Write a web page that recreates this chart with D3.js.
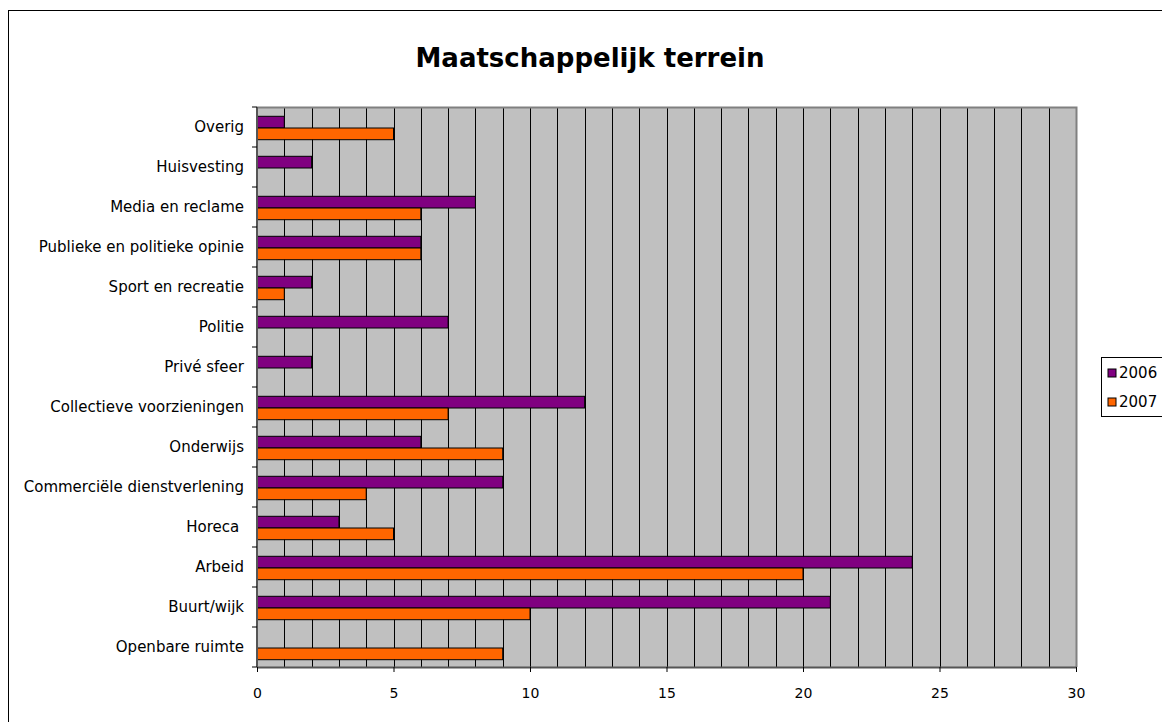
<!DOCTYPE html>
<html>
<head>
<meta charset="utf-8">
<script src="https://cdn.jsdelivr.net/npm/d3@7"></script>
<style>
  body { margin: 0; background: #fff; }
  svg text { font-family: "DejaVu Sans", Verdana, sans-serif; fill: #000; }
</style>
</head>
<body>
<svg id="chart" width="1162" height="722"></svg>
<script>
"use strict";

//Categories, top to bottom as in the chart
var categories = ["Overig", "Huisvesting", "Media en reclame", "Publieke en politieke opinie",
  "Sport en recreatie", "Politie", "Privé sfeer", "Collectieve voorzieningen", "Onderwijs",
  "Commerciële dienstverlening", "Horeca ", "Arbeid", "Buurt/wijk", "Openbare ruimte"];

//Series values
var years = ["2006", "2007"];
var values2006 = [1, 2, 8, 6, 2, 7, 2, 12, 6, 9, 3, 24, 21, 0];
var values2007 = [5, 0, 6, 6, 1, 0, 0, 7, 9, 4, 5, 20, 10, 9];
var colors = ["#800080", "#ff6600"];

//X tick labels
var xTicks = [0, 5, 10, 15, 20, 25, 30];

var svg = d3.select("#chart");

//Outer frame
svg.append("rect")
  .attr("x", 8.5).attr("y", 10.5)
  .attr("width", 1170).attr("height", 730)
  .attr("fill", "none").attr("stroke", "#000");

var margin = {top: 107, left: 257, right: 1076, bottom: 667};

var x = d3.scaleLinear().domain([0, 30]).range([margin.left, margin.right]);
var y = d3.scaleBand().domain(categories).range([margin.top, margin.bottom]);

//Plot area background
svg.append("rect")
  .attr("x", x(0)).attr("y", margin.top)
  .attr("width", x(30) - x(0)).attr("height", margin.bottom - margin.top)
  .attr("fill", "#c0c0c0");

//Vertical grid lines at every unit
svg.append("g")
  .selectAll("line")
  .data(d3.range(1, 30))
  .enter().append("line")
  .attr("x1", function(d) { return Math.round(x(d)) + 0.5; })
  .attr("x2", function(d) { return Math.round(x(d)) + 0.5; })
  .attr("y1", margin.top).attr("y2", margin.bottom)
  .attr("stroke", "#000").attr("stroke-width", 1);

//Plot border top/right in grey
svg.append("path")
  .attr("d", "M" + (x(0)) + "," + (margin.top + 0.5) + "H" + (Math.round(x(30)) + 0.5) + "V" + margin.bottom)
  .attr("fill", "none").attr("stroke", "#808080").attr("stroke-width", 2);

//Bars
var barH = 11.7;
var rows = categories.map(function(c, i) {
  return {cat: c, vals: [values2006[i], values2007[i]]};
});

var group = svg.append("g").selectAll("g")
  .data(rows)
  .enter().append("g")
  .attr("transform", function(d) { return "translate(0," + (y(d.cat) + y.bandwidth() / 2 + 1) + ")"; });

group.selectAll("rect")
  .data(function(d) { return d.vals.map(function(v, k) { return {v: v, k: k}; }); })
  .enter().filter(function(d) { return d.v > 0; }).append("rect")
  .attr("x", x(0))
  .attr("y", function(d) { return d.k === 0 ? -barH : 0; })
  .attr("width", function(d) { return x(d.v) - x(0); })
  .attr("height", barH)
  .attr("fill", function(d) { return colors[d.k]; })
  .attr("stroke", "#000").attr("stroke-width", 1);

//X axis
var xAxis = svg.append("g")
  .attr("transform", "translate(0," + margin.bottom + ")")
  .call(d3.axisBottom(x).tickValues(xTicks).tickSizeInner(5).tickSizeOuter(0).tickPadding(16));
xAxis.select(".domain").attr("stroke", "#555").attr("stroke-width", 2);
xAxis.selectAll(".tick line").attr("stroke", "#000");
xAxis.selectAll("text").attr("font-size", 14);

//Y axis with ticks on the band boundaries
var yAxis = svg.append("g").attr("transform", "translate(" + x(0) + ",0)");
yAxis.append("line")
  .attr("y1", margin.top).attr("y2", margin.bottom)
  .attr("stroke", "#555").attr("stroke-width", 2);
yAxis.selectAll(".ytick")
  .data(categories.concat(["end"]))
  .enter().append("line")
  .attr("class", "ytick")
  .attr("x1", -5).attr("x2", 0)
  .attr("y1", function(d, i) { return margin.top + i * y.bandwidth(); })
  .attr("y2", function(d, i) { return margin.top + i * y.bandwidth(); })
  .attr("stroke", "#000");
yAxis.selectAll(".ylabel")
  .data(categories)
  .enter().append("text")
  .attr("class", "ylabel")
  .attr("x", -13)
  .attr("y", function(d) { return y(d) + y.bandwidth() / 2; })
  .attr("dy", "0.35em")
  .attr("text-anchor", "end")
  .attr("font-size", 15)
  .style("white-space", "pre")
  .text(function(d) { return d; });

//Title
svg.append("text")
  .attr("x", 590).attr("y", 67)
  .attr("text-anchor", "middle")
  .attr("font-size", 26)
  .attr("font-weight", "bold")
  .text("Maatschappelijk terrein");

//Legend
var legend = svg.append("g");
legend.append("rect")
  .attr("x", 1101.5).attr("y", 357.5)
  .attr("width", 80).attr("height", 59)
  .attr("fill", "#fff").attr("stroke", "#000");

var item = legend.selectAll(".item")
  .data(years)
  .enter().append("g")
  .attr("class", "item")
  .attr("transform", function(d, i) { return "translate(1108," + (369 + i * 29) + ")"; });
item.append("rect")
  .attr("width", 8).attr("height", 8)
  .attr("fill", function(d, i) { return colors[i]; })
  .attr("stroke", "#000");
item.append("text")
  .attr("x", 11).attr("y", 4)
  .attr("dy", "0.35em")
  .attr("font-size", 15)
  .text(function(d) { return d; });
</script>
</body>
</html>
